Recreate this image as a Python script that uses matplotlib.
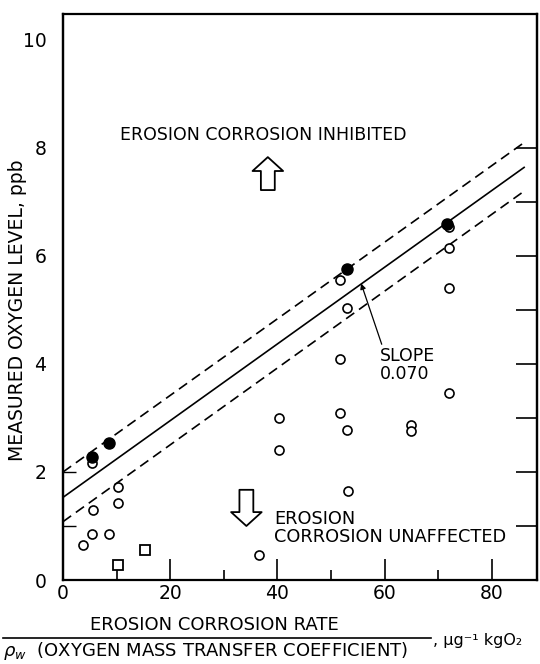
import matplotlib.pyplot as plt
from matplotlib.lines import Line2D

# measured points (open circles)
open_x = [3.7, 5.5, 8.5, 5.6, 10.2, 10.2, 5.4, 36.5, 40.3, 40.3, 53.2,
          51.7, 52.9, 51.7, 52.9, 51.6, 64.9, 64.9, 71.9, 71.9, 71.9, 72.0]
open_y = [0.65, 0.85, 0.86, 1.30, 1.42, 1.73, 2.17, 0.46, 2.41, 3.00, 1.64,
          3.09, 2.78, 4.09, 5.03, 5.56, 2.87, 2.75, 6.54, 6.14, 5.40, 3.47]

# filled circles
filled_x = [5.4, 8.6, 52.9, 71.6]
filled_y = [2.27, 2.53, 5.75, 6.59]

# square symbols
square_x = [10.3, 15.3]
square_y = [0.28, 0.56]

# fitted line and band
line_x = [0, 86]
solid_y = [1.53, 7.64]
upper_y = [2.00, 8.10]
lower_y = [1.08, 7.20]

x_major = [0, 20, 40, 60, 80]
x_minor = [10, 30, 50, 70]
y_major = [0, 2, 4, 6, 8, 10]
y_right = [1, 2, 3, 4, 5, 6, 7, 8]

W, H = 540, 664
fig = plt.figure(figsize=(W / 100, H / 100), dpi=100)
ax = fig.add_axes([63 / W, 1 - 580 / H, (537 - 63) / W, (580 - 14) / H])

dash = (0, (6, 3.5))
ax.plot(line_x, solid_y, color='black', lw=1.2)
ax.plot(line_x, upper_y, color='black', lw=1.2, linestyle=dash)
ax.plot(line_x, lower_y, color='black', lw=1.2, linestyle=dash)

ax.plot(open_x, open_y, 'o', ms=6.5, mfc='white', mec='black', mew=1.2)
ax.plot(filled_x, filled_y, 'o', ms=8, color='black')
ax.plot(square_x, square_y, 's', ms=7, mfc='white', mec='black', mew=1.3)

ax.set_xlim(0, 88.4)
ax.set_ylim(0, 10.48)
for s in ax.spines.values():
    s.set_linewidth(1.6)

ax.set_xticks(x_major)
ax.set_xticks(x_minor, minor=True)
ax.tick_params(axis='x', which='major', direction='in', length=15, width=1.2,
               labelsize=13.5, pad=3)
ax.tick_params(axis='x', which='minor', direction='in', length=7, width=1.2)
ax.set_yticks(y_major)
ax.tick_params(axis='y', which='major', length=0, labelsize=13.5, pad=12)

right = ax.secondary_yaxis('right')
right.set_yticks(y_right)
right.tick_params(direction='in', length=15, width=1.2, labelright=False)
right.spines['right'].set_linewidth(1.6)

left = ax.secondary_yaxis('left')
left.set_yticks([1, 2])
left.tick_params(direction='in', length=9, width=1.0, labelleft=False)
left.spines['left'].set_linewidth(1.6)

# region labels and arrows
ax.text(37.4, 8.24, 'EROSION CORROSION INHIBITED', ha='center', va='center',
        fontsize=12.5)
ax.text(39.4, 1.13, 'EROSION', ha='left', va='center', fontsize=12.8)
ax.text(39.4, 0.79, 'CORROSION UNAFFECTED', ha='left', va='center',
        fontsize=12.8)

block = dict(arrowstyle='simple,head_width=2.2,head_length=1.0,tail_width=1.0',
             mutation_scale=10, fc='white', ec='black', lw=1.3,
             shrinkA=0, shrinkB=0)
ax.annotate('', xy=(38.2, 7.83), xytext=(38.2, 7.22), arrowprops=block)
ax.annotate('', xy=(34.2, 1.00), xytext=(34.2, 1.67), arrowprops=block)

ax.annotate('SLOPE\n0.070', xy=(55.6, 5.49), xytext=(59.1, 3.98),
            ha='left', va='center', fontsize=12.5, linespacing=1.0,
            arrowprops=dict(arrowstyle='-|>', color='black', lw=0.9,
                            shrinkA=0, shrinkB=0, mutation_scale=8,
                            relpos=(0.05, 1.0)))

# axis labels
fig.text(18 / W, 1 - 310 / H, 'MEASURED OXYGEN LEVEL, ppb', rotation=90,
         ha='center', va='center', fontsize=13.5)
fig.text(214 / W, 1 - 625 / H, 'EROSION CORROSION RATE', ha='center',
         va='center', fontsize=13)
fig.add_artist(Line2D([3 / W, 431 / W], [1 - 638 / H, 1 - 638 / H],
                      color='black', lw=1.2))
fig.text(3 / W, 1 - 651 / H, r'$\rho_w$  (OXYGEN MASS TRANSFER COEFFICIENT)',
         ha='left', va='center', fontsize=13)
fig.text(433 / W, 1 - 641 / H, ', μg⁻¹ kgO₂', ha='left', va='center',
         fontsize=11.5)

fig.savefig('out.png', dpi=100)
